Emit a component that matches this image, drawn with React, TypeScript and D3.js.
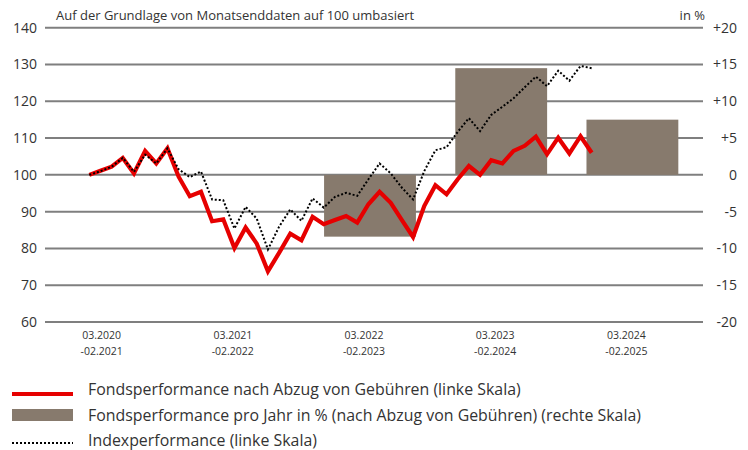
import React from "react";
import * as d3 from "d3";

// Monatswerte, auf 100 umbasiert
const fund = [
  100, 101.1, 102.2, 104.6, 100.4, 106.5, 103.1, 107.2, 99.5, 94.2, 95.4, 87.4,
  87.9, 80.1, 85.7, 81.3, 73.8, 78.8, 84.0, 82.2, 88.6, 86.6, 87.7, 88.8,
  87.0, 92.0, 95.4, 92.4, 87.7, 83.1, 91.5, 97.2, 94.7, 98.8, 102.4, 100.0,
  104.0, 103.1, 106.5, 107.9, 110.4, 105.6, 110.1, 105.8, 110.5, 106.0,
];
const index = [
  100, 101.0, 102.2, 104.6, 100.8, 105.5, 103.1, 107.2, 101.5, 99.4, 100.9, 93.3,
  93.1, 85.4, 91.3, 88.1, 79.7, 85.9, 90.6, 87.5, 93.6, 91.1, 94.0, 95.1,
  94.3, 98.8, 103.1, 100.4, 96.5, 93.3, 101.0, 106.7, 107.5, 111.7, 115.4, 111.9,
  116.3, 118.5, 120.8, 123.8, 126.7, 124.1, 128.3, 125.6, 129.6, 129.0,
];
const periods = ["03.2020", "03.2021", "03.2022", "03.2023", "03.2024"];
const periodEnds = ["-02.2021", "-02.2022", "-02.2023", "-02.2024", "-02.2025"];
const yearly: (number | null)[] = [null, null, -8.4, 14.5, 7.5];
const leftTicks = [60, 70, 80, 90, 100, 110, 120, 130, 140];
const rightTicks = [-20, -15, -10, -5, 0, 5, 10, 15, 20];

const W = 748;
const H = 450;
const RED = "#e60000";
const BROWN = "#877a6d";
const GRID = "#7f7f7f";
const TXT = "#333";
const FONT = "'Open Sans', sans-serif";

export default function App() {
  const y = d3.scaleLinear().domain([60, 140]).range([322, 27.7]);
  const y2 = d3.scaleLinear().domain([-20, 20]).range([322, 27.7]);
  const xb = d3.scaleBand().domain(periods).range([42, 698]).paddingInner(0.3).paddingOuter(0.15);
  const xm = d3.scaleLinear().domain([0, fund.length - 1]).range([89.3, 591.7]);

  const line = d3
    .line<number>()
    .x((_, i) => xm(i))
    .y((d) => y(d));

  const fmt = (v: number) => (v > 0 ? "+" + v : String(v));

  return (
    <svg width={W} height={H} style={{ position: "absolute", left: 0, top: 0, background: "#fff" }}>
      <g fontFamily={FONT} fill={TXT}>
        <text x={56} y={19.5} fontSize={13}>
          Auf der Grundlage von Monatsenddaten auf 100 umbasiert
        </text>
        <text x={705} y={19.5} fontSize={13} textAnchor="end">
          in %
        </text>

        {leftTicks.map((t) => (
          <g key={t}>
            <line x1={45} x2={703} y1={y(t)} y2={y(t)} stroke={GRID} strokeWidth={2} />
            <text x={37} y={y(t) + 5} textAnchor="end" fontSize={14}>
              {t}
            </text>
          </g>
        ))}
        {rightTicks.map((t) => (
          <text key={t} x={737} y={y2(t) + 5} textAnchor="end" fontSize={14}>
            {fmt(t)}
          </text>
        ))}

        {periods.map((p, i) => {
          const v = yearly[i];
          if (v == null) return null;
          return (
            <rect
              key={p}
              x={xb(p)}
              width={xb.bandwidth()}
              y={Math.min(y2(v), y2(0))}
              height={Math.abs(y2(v) - y2(0))}
              fill={BROWN}
            />
          );
        })}

        {periods.map((p, i) => {
          const cx = (xb(p) as number) + xb.bandwidth() / 2 - 6;
          return (
            <text key={p} x={cx} textAnchor="middle" fontSize={10.5}>
              <tspan x={cx} y={338.5}>{p}</tspan>
              <tspan x={cx} y={355}>{periodEnds[i]}</tspan>
            </text>
          );
        })}

        <path d={line(fund) || ""} fill="none" stroke={RED} strokeWidth={4.2} />
        <path d={line(index) || ""} fill="none" stroke="#000" strokeWidth={2} strokeDasharray="2,2" />

        {/* Legende */}
        <line x1={12} x2={73} y1={394} y2={394} stroke={RED} strokeWidth={4} />
        <text x={88} y={395} fontSize={15.9}>
          Fondsperformance nach Abzug von Gebühren (linke Skala)
        </text>
        <rect x={12} y={409} width={61} height={12} fill={BROWN} />
        <text x={88} y={421} fontSize={15.9}>
          Fondsperformance pro Jahr in % (nach Abzug von Gebühren) (rechte Skala)
        </text>
        <line x1={12} x2={73} y1={443} y2={443} stroke="#000" strokeWidth={2} strokeDasharray="2,2" />
        <text x={88} y={446} fontSize={15.9}>
          Indexperformance (linke Skala)
        </text>
      </g>
    </svg>
  );
}
